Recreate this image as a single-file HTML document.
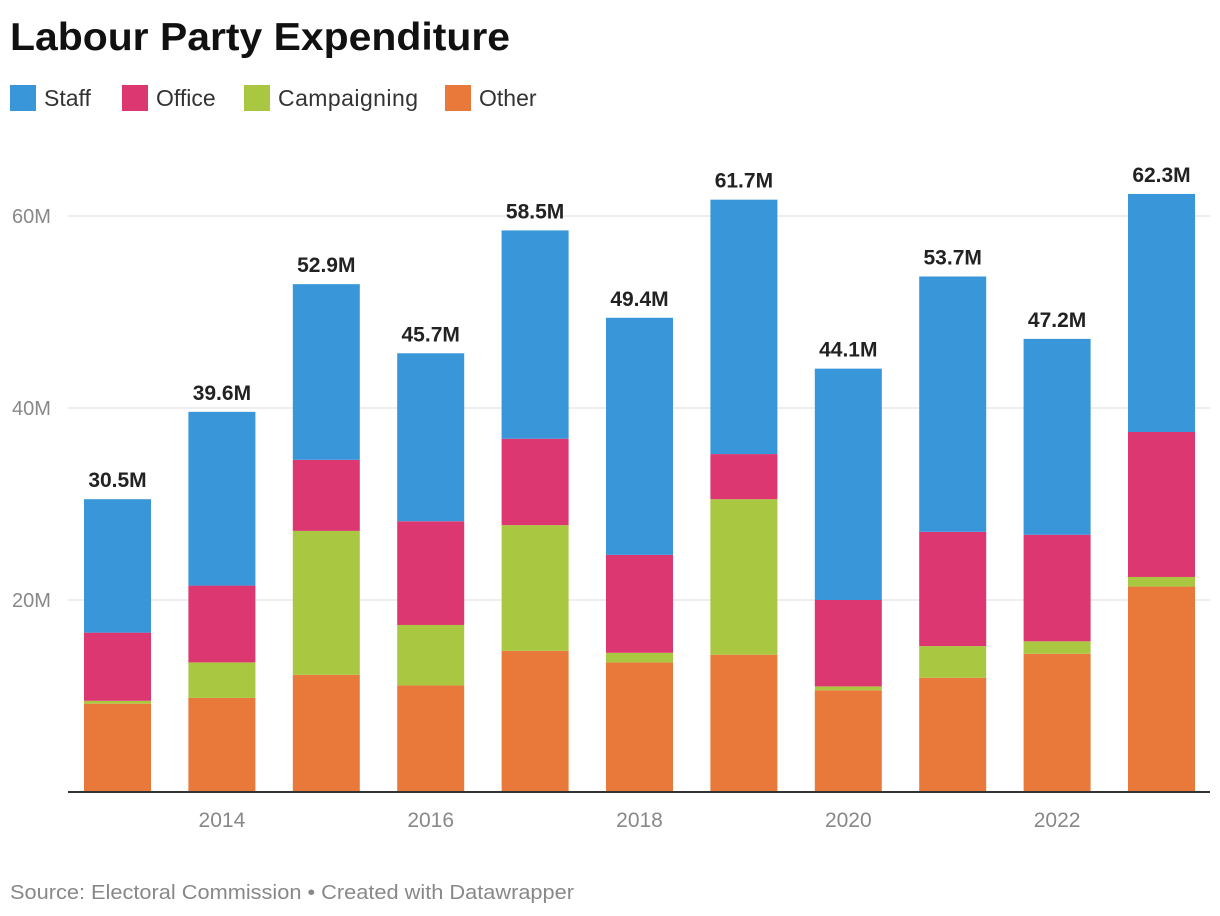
<!DOCTYPE html>
<html><head><meta charset="utf-8"><style>
body{margin:0;background:#fff;font-family:"Liberation Sans",Arial,sans-serif;}
#wrap{position:relative;width:1220px;height:916px;overflow:hidden}
</style></head><body><div id="wrap">
<svg id="chart" width="1220" height="916" xmlns="http://www.w3.org/2000/svg">
<text x="10" y="50" font-size="39" font-weight="bold" fill="#111" textLength="500" lengthAdjust="spacingAndGlyphs">Labour Party Expenditure</text>
<g>
<rect x="10" y="85" width="26" height="26" fill="#3896d9"/><text x="44" y="106" font-size="23" fill="#333">Staff</text>
<rect x="122" y="85" width="26" height="26" fill="#dc3770"/><text x="156" y="106" font-size="23" fill="#333">Office</text>
<rect x="244" y="85" width="26" height="26" fill="#aac742"/><text x="278" y="106" font-size="23" fill="#333" textLength="140">Campaigning</text>
<rect x="445" y="85" width="26" height="26" fill="#e8793b"/><text x="479" y="106" font-size="23" fill="#333">Other</text>
</g>
<g id="grid"></g><g id="bars"></g><g id="labels"></g>
<text x="10" y="899" font-size="20" fill="#888" textLength="564" lengthAdjust="spacingAndGlyphs">Source: Electoral Commission • Created with Datawrapper</text>
</svg>
<script>
const years=[2013,2014,2015,2016,2017,2018,2019,2020,2021,2022,2023];
const other=[9.2,9.8,12.2,11.1,14.7,13.5,14.3,10.6,11.9,14.4,21.4];
const campaigning=[0.3,3.7,15.0,6.3,13.1,1.0,16.2,0.4,3.3,1.3,1.0];
const office=[7.1,8.0,7.4,10.8,9.0,10.2,4.7,9.0,11.9,11.1,15.1];
const totals=[30.5,39.6,52.9,45.7,58.5,49.4,61.7,44.1,53.7,47.2,62.3];
const yTicks=[20,40,60];
const xTickYears=[2014,2016,2018,2020,2022];
const NS="http://www.w3.org/2000/svg";
const y0=792,pxPerM=9.6;
function yS(v){return y0-v*pxPerM;}
function xS(yr){return 117.5+(yr-2013)*104.4;}
const bw=67;
function mk(tag,attrs,parent){const e=document.createElementNS(NS,tag);for(const k in attrs)e.setAttribute(k,attrs[k]);parent.appendChild(e);return e;}
const grid=document.getElementById('grid'),bars=document.getElementById('bars'),labels=document.getElementById('labels');
yTicks.forEach(t=>{
 const l=mk('line',{x1:68,x2:1210,y1:yS(t),y2:yS(t),stroke:'#ddd','stroke-width':1},grid);
 
 
 const tx=mk('text',{x:12,y:yS(t)+7,'font-size':20,fill:'#888'},grid);tx.textContent=t+'M';
 
 
});
const series=[['other',other,'#e8793b'],['campaigning',campaigning,'#aac742'],['office',office,'#dc3770']];
years.forEach((yr,i)=>{
 let base=0;const x=xS(yr)-bw/2;
 series.forEach(([nm,arr,c])=>{
  const r=mk('rect',{x:x,y:yS(base+arr[i]),width:bw,height:arr[i]*pxPerM,fill:c},bars);
  
  
  base+=arr[i];
 });
 const staff=totals[i]-base;
 const r=mk('rect',{x:x,y:yS(totals[i]),width:bw,height:staff*pxPerM,fill:'#3896d9'},bars);
 
 
 const t=mk('text',{x:xS(yr),y:yS(totals[i])-12,'font-size':21,'font-weight':'bold',fill:'#222','text-anchor':'middle'},labels);
 t.textContent=totals[i].toFixed(1)+'M';
 
 
});
const ax=mk('line',{x1:68,x2:1210,y1:y0,y2:y0,stroke:'#333','stroke-width':2},labels);


xTickYears.forEach(yr=>{
 const t=mk('text',{x:xS(yr),y:827,'font-size':21,fill:'#888','text-anchor':'middle'},labels);t.textContent=yr;
 
 
});
</script></div></body></html>
